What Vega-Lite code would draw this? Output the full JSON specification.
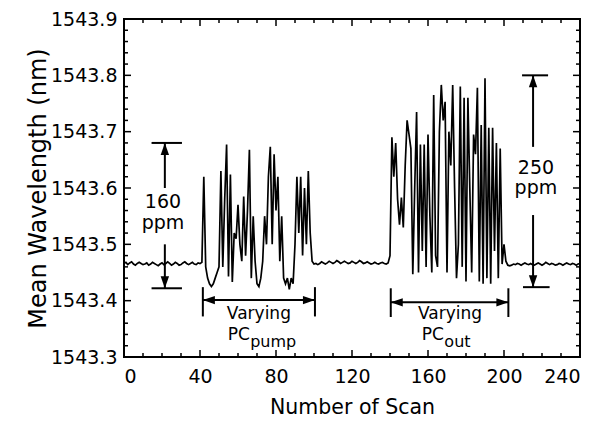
{
  "width": 456,
  "height": 338,
  "autosize": {"type": "none"},
  "padding": {"left": 124, "top": 19, "right": 30, "bottom": 66},
  "background": "white",
  "config": {
    "view": {"stroke": "black", "strokeWidth": 2},
    "axis": {"grid": false, "domain": false, "labelColor": "black", "titleColor": "black", "labelFont": "DejaVu Sans", "titleFont": "DejaVu Sans", "titleFontWeight": "normal"}
  },
  "datasets": {
    "scan": [
      {"s":0,"w":1543.466},{"s":1,"w":1543.468},{"s":2,"w":1543.464},{"s":3,"w":1543.467},{"s":4,"w":1543.469},{"s":5,"w":1543.465},{"s":6,"w":1543.463},{"s":7,"w":1543.466},{"s":8,"w":1543.468},{"s":9,"w":1543.466},
      {"s":10,"w":1543.464},{"s":11,"w":1543.465},{"s":12,"w":1543.467},{"s":13,"w":1543.463},{"s":14,"w":1543.465},{"s":15,"w":1543.468},{"s":16,"w":1543.466},{"s":17,"w":1543.464},{"s":18,"w":1543.462},{"s":19,"w":1543.465},
      {"s":20,"w":1543.467},{"s":21,"w":1543.464},{"s":22,"w":1543.466},{"s":23,"w":1543.469},{"s":24,"w":1543.466},{"s":25,"w":1543.463},{"s":26,"w":1543.465},{"s":27,"w":1543.468},{"s":28,"w":1543.466},{"s":29,"w":1543.463},
      {"s":30,"w":1543.464},{"s":31,"w":1543.467},{"s":32,"w":1543.469},{"s":33,"w":1543.466},{"s":34,"w":1543.464},{"s":35,"w":1543.466},{"s":36,"w":1543.468},{"s":37,"w":1543.465},{"s":38,"w":1543.464},{"s":39,"w":1543.467},
      {"s":40,"w":1543.466},{"s":41,"w":1543.468},{"s":42,"w":1543.62},{"s":43,"w":1543.46},{"s":44,"w":1543.44},{"s":45,"w":1543.43},{"s":46,"w":1543.425},{"s":47,"w":1543.43},{"s":48,"w":1543.44},{"s":49,"w":1543.45},
      {"s":50,"w":1543.46},{"s":51,"w":1543.63},{"s":52,"w":1543.46},{"s":53,"w":1543.58},{"s":54,"w":1543.677},{"s":55,"w":1543.443},{"s":56,"w":1543.624},{"s":57,"w":1543.433},{"s":58,"w":1543.52},{"s":59,"w":1543.51},
      {"s":60,"w":1543.57},{"s":61,"w":1543.50},{"s":62,"w":1543.47},{"s":63,"w":1543.585},{"s":64,"w":1543.48},{"s":65,"w":1543.56},{"s":66,"w":1543.668},{"s":67,"w":1543.44},{"s":68,"w":1543.55},{"s":69,"w":1543.47},
      {"s":70,"w":1543.43},{"s":71,"w":1543.425},{"s":72,"w":1543.44},{"s":73,"w":1543.47},{"s":74,"w":1543.55},{"s":75,"w":1543.50},{"s":76,"w":1543.62},{"s":77,"w":1543.673},{"s":78,"w":1543.50},{"s":79,"w":1543.66},
      {"s":80,"w":1543.56},{"s":81,"w":1543.62},{"s":82,"w":1543.47},{"s":83,"w":1543.55},{"s":84,"w":1543.44},{"s":85,"w":1543.43},{"s":86,"w":1543.44},{"s":87,"w":1543.42},{"s":88,"w":1543.44},{"s":89,"w":1543.43},
      {"s":90,"w":1543.50},{"s":91,"w":1543.62},{"s":92,"w":1543.52},{"s":93,"w":1543.62},{"s":94,"w":1543.48},{"s":95,"w":1543.60},{"s":96,"w":1543.50},{"s":97,"w":1543.63},{"s":98,"w":1543.52},{"s":99,"w":1543.47},
      {"s":100,"w":1543.465},{"s":101,"w":1543.466},{"s":102,"w":1543.464},{"s":103,"w":1543.466},{"s":104,"w":1543.469},{"s":105,"w":1543.467},{"s":106,"w":1543.465},{"s":107,"w":1543.467},{"s":108,"w":1543.470},{"s":109,"w":1543.468},
      {"s":110,"w":1543.466},{"s":111,"w":1543.468},{"s":112,"w":1543.471},{"s":113,"w":1543.469},{"s":114,"w":1543.466},{"s":115,"w":1543.468},{"s":116,"w":1543.470},{"s":117,"w":1543.468},{"s":118,"w":1543.466},{"s":119,"w":1543.467},
      {"s":120,"w":1543.470},{"s":121,"w":1543.468},{"s":122,"w":1543.466},{"s":123,"w":1543.468},{"s":124,"w":1543.471},{"s":125,"w":1543.469},{"s":126,"w":1543.466},{"s":127,"w":1543.467},{"s":128,"w":1543.469},{"s":129,"w":1543.467},
      {"s":130,"w":1543.465},{"s":131,"w":1543.466},{"s":132,"w":1543.468},{"s":133,"w":1543.466},{"s":134,"w":1543.465},{"s":135,"w":1543.467},{"s":136,"w":1543.468},{"s":137,"w":1543.466},{"s":138,"w":1543.465},{"s":139,"w":1543.467},
      {"s":140,"w":1543.48},{"s":141,"w":1543.69},{"s":142,"w":1543.62},{"s":143,"w":1543.68},{"s":144,"w":1543.58},{"s":145,"w":1543.535},{"s":146,"w":1543.583},{"s":147,"w":1543.53},{"s":148,"w":1543.64},{"s":149,"w":1543.72},
      {"s":150,"w":1543.695},{"s":151,"w":1543.67},{"s":152,"w":1543.447},{"s":153,"w":1543.60},{"s":154,"w":1543.735},{"s":155,"w":1543.45},{"s":156,"w":1543.677},{"s":157,"w":1543.488},{"s":158,"w":1543.677},{"s":159,"w":1543.46},
      {"s":160,"w":1543.695},{"s":161,"w":1543.55},{"s":162,"w":1543.45},{"s":163,"w":1543.765},{"s":164,"w":1543.48},{"s":165,"w":1543.46},{"s":166,"w":1543.70},{"s":167,"w":1543.783},{"s":168,"w":1543.72},{"s":169,"w":1543.753},
      {"s":170,"w":1543.45},{"s":171,"w":1543.70},{"s":172,"w":1543.64},{"s":173,"w":1543.783},{"s":174,"w":1543.60},{"s":175,"w":1543.44},{"s":176,"w":1543.50},{"s":177,"w":1543.78},{"s":178,"w":1543.46},{"s":179,"w":1543.76},
      {"s":180,"w":1543.434},{"s":181,"w":1543.76},{"s":182,"w":1543.60},{"s":183,"w":1543.45},{"s":184,"w":1543.695},{"s":185,"w":1543.66},{"s":186,"w":1543.778},{"s":187,"w":1543.434},{"s":188,"w":1543.712},{"s":189,"w":1543.43},
      {"s":190,"w":1543.795},{"s":191,"w":1543.44},{"s":192,"w":1543.707},{"s":193,"w":1543.43},{"s":194,"w":1543.707},{"s":195,"w":1543.488},{"s":196,"w":1543.68},{"s":197,"w":1543.44},{"s":198,"w":1543.67},{"s":199,"w":1543.465},
      {"s":200,"w":1543.50},{"s":201,"w":1543.47},{"s":202,"w":1543.463},{"s":203,"w":1543.462},{"s":204,"w":1543.463},{"s":205,"w":1543.465},{"s":206,"w":1543.464},{"s":207,"w":1543.466},{"s":208,"w":1543.465},{"s":209,"w":1543.463},
      {"s":210,"w":1543.465},{"s":211,"w":1543.467},{"s":212,"w":1543.465},{"s":213,"w":1543.464},{"s":214,"w":1543.466},{"s":215,"w":1543.464},{"s":216,"w":1543.463},{"s":217,"w":1543.465},{"s":218,"w":1543.467},{"s":219,"w":1543.465},
      {"s":220,"w":1543.463},{"s":221,"w":1543.465},{"s":222,"w":1543.468},{"s":223,"w":1543.466},{"s":224,"w":1543.464},{"s":225,"w":1543.466},{"s":226,"w":1543.465},{"s":227,"w":1543.463},{"s":228,"w":1543.464},{"s":229,"w":1543.466},
      {"s":230,"w":1543.465},{"s":231,"w":1543.463},{"s":232,"w":1543.465},{"s":233,"w":1543.467},{"s":234,"w":1543.465},{"s":235,"w":1543.464},{"s":236,"w":1543.466},{"s":237,"w":1543.465},{"s":238,"w":1543.463},{"s":239,"w":1543.465},
      {"s":240,"w":1543.466}
    ],
    "segs": [
      {"x":14.5,"x2":30.5,"y":1543.68,"y2":1543.68},
      {"x":21.5,"x2":21.5,"y":1543.68,"y2":1543.60},
      {"x":21.5,"x2":21.5,"y":1543.50,"y2":1543.422},
      {"x":14.5,"x2":30.5,"y":1543.422,"y2":1543.422},
      {"x":209.5,"x2":223.2,"y":1543.80,"y2":1543.80},
      {"x":215.3,"x2":215.3,"y":1543.80,"y2":1543.673},
      {"x":215.3,"x2":215.3,"y":1543.552,"y2":1543.424},
      {"x":210,"x2":224,"y":1543.424,"y2":1543.424},
      {"x":41.5,"x2":41.5,"y":1543.424,"y2":1543.372},
      {"x":100.5,"x2":100.5,"y":1543.424,"y2":1543.372},
      {"x":41.5,"x2":100.5,"y":1543.401,"y2":1543.401},
      {"x":140.4,"x2":140.4,"y":1543.422,"y2":1543.371},
      {"x":202.3,"x2":202.3,"y":1543.422,"y2":1543.371},
      {"x":140.4,"x2":202.3,"y":1543.397,"y2":1543.397}
    ],
    "heads": [
      {"x":21.5,"y":1543.68,"dir":"up"},
      {"x":215.3,"y":1543.80,"dir":"up"},
      {"x":21.5,"y":1543.422,"dir":"down"},
      {"x":215.3,"y":1543.424,"dir":"down"},
      {"x":41.5,"y":1543.401,"dir":"left"},
      {"x":140.4,"y":1543.397,"dir":"left"},
      {"x":100.5,"y":1543.401,"dir":"right"},
      {"x":202.3,"y":1543.397,"dir":"right"}
    ],
    "ppm": [
      {"x":20.5,"y":1543.564,"t":"160"},
      {"x":20.5,"y":1543.528,"t":"ppm"},
      {"x":216.8,"y":1543.625,"t":"250"},
      {"x":216.8,"y":1543.589,"t":"ppm"}
    ],
    "vary": [
      {"x":71,"y":1543.367,"t":"Varying"},
      {"x":171.6,"y":1543.367,"t":"Varying"}
    ],
    "pc": [
      {"x":66.2,"y":1543.331,"t":"PC"},
      {"x":168.4,"y":1543.331,"t":"PC"}
    ],
    "sub": [
      {"x":66.4,"y":1543.318,"t":"pump"},
      {"x":168.6,"y":1543.318,"t":"out"}
    ],
    "xt": [
      {"v":0,"k":"major"},{"v":10,"k":"minor"},{"v":20,"k":"minor"},{"v":30,"k":"minor"},
      {"v":40,"k":"major"},{"v":50,"k":"minor"},{"v":60,"k":"minor"},{"v":70,"k":"minor"},
      {"v":80,"k":"major"},{"v":90,"k":"minor"},{"v":100,"k":"minor"},{"v":110,"k":"minor"},
      {"v":120,"k":"major"},{"v":130,"k":"minor"},{"v":140,"k":"minor"},{"v":150,"k":"minor"},
      {"v":160,"k":"major"},{"v":170,"k":"minor"},{"v":180,"k":"minor"},{"v":190,"k":"minor"},
      {"v":200,"k":"major"},{"v":210,"k":"minor"},{"v":220,"k":"minor"},{"v":230,"k":"minor"},
      {"v":240,"k":"major"}
    ],
    "yt": [
      {"v":1543.30,"k":"major"},{"v":1543.32,"k":"minor"},{"v":1543.34,"k":"minor"},{"v":1543.36,"k":"minor"},{"v":1543.38,"k":"minor"},
      {"v":1543.40,"k":"major"},{"v":1543.42,"k":"minor"},{"v":1543.44,"k":"minor"},{"v":1543.46,"k":"minor"},{"v":1543.48,"k":"minor"},
      {"v":1543.50,"k":"major"},{"v":1543.52,"k":"minor"},{"v":1543.54,"k":"minor"},{"v":1543.56,"k":"minor"},{"v":1543.58,"k":"minor"},
      {"v":1543.60,"k":"major"},{"v":1543.62,"k":"minor"},{"v":1543.64,"k":"minor"},{"v":1543.66,"k":"minor"},{"v":1543.68,"k":"minor"},
      {"v":1543.70,"k":"major"},{"v":1543.72,"k":"minor"},{"v":1543.74,"k":"minor"},{"v":1543.76,"k":"minor"},{"v":1543.78,"k":"minor"},
      {"v":1543.80,"k":"major"},{"v":1543.82,"k":"minor"},{"v":1543.84,"k":"minor"},{"v":1543.86,"k":"minor"},{"v":1543.88,"k":"minor"},
      {"v":1543.90,"k":"major"}
    ]
  },
  "resolve": {"axis": {"x": "independent", "y": "independent"}},
  "layer": [
    {
      "data": {"name": "scan"},
      "mark": {"type": "line", "color": "black", "strokeWidth": 1.7},
      "encoding": {
        "x": {"field": "s", "type": "quantitative", "scale": {"domain": [0, 240], "nice": false, "zero": false},
              "axis": {"orient": "bottom", "values": [0, 40, 80, 120, 160, 200, 240], "ticks": false, "labelPadding": 10, "labelFontSize": 19, "title": "Number of Scan", "titleFontSize": 20.5, "titlePadding": 11}},
        "y": {"field": "w", "type": "quantitative", "scale": {"domain": [1543.3, 1543.9], "nice": false, "zero": false},
              "axis": {"orient": "left", "values": [1543.3, 1543.4, 1543.5, 1543.6, 1543.7, 1543.8, 1543.9], "format": ".1f", "ticks": false, "labelPadding": 7, "labelFontSize": 19, "title": "Mean Wavelength (nm)", "titleFontSize": 24, "titlePadding": 0}}
      }
    },
    {
      "data": {"name": "xt"},
      "mark": {"type": "tick", "orient": "vertical", "color": "black", "opacity": 1, "thickness": 1.5, "clip": true},
      "encoding": {
        "x": {"field": "v", "type": "quantitative", "scale": {"domain": [0, 240], "nice": false, "zero": false}, "axis": null},
        "y": {"datum": 1543.3, "type": "quantitative", "scale": {"domain": [1543.3, 1543.9], "nice": false, "zero": false}, "axis": null},
        "size": {"field": "k", "type": "ordinal", "scale": {"domain": ["major", "minor"], "range": [14, 8]}, "legend": null}
      }
    },
    {
      "data": {"name": "xt"},
      "mark": {"type": "tick", "orient": "vertical", "color": "black", "opacity": 1, "thickness": 1.5, "clip": true},
      "encoding": {
        "x": {"field": "v", "type": "quantitative", "scale": {"domain": [0, 240], "nice": false, "zero": false}, "axis": null},
        "y": {"datum": 1543.9, "type": "quantitative", "scale": {"domain": [1543.3, 1543.9], "nice": false, "zero": false}, "axis": null},
        "size": {"field": "k", "type": "ordinal", "scale": {"domain": ["major", "minor"], "range": [14, 8]}, "legend": null}
      }
    },
    {
      "data": {"name": "yt"},
      "mark": {"type": "tick", "orient": "horizontal", "color": "black", "opacity": 1, "thickness": 1.5, "clip": true},
      "encoding": {
        "y": {"field": "v", "type": "quantitative", "scale": {"domain": [1543.3, 1543.9], "nice": false, "zero": false}, "axis": null},
        "x": {"datum": 0, "type": "quantitative", "scale": {"domain": [0, 240], "nice": false, "zero": false}, "axis": null},
        "size": {"field": "k", "type": "ordinal", "scale": {"domain": ["major", "minor"], "range": [14, 8]}, "legend": null}
      }
    },
    {
      "data": {"name": "yt"},
      "mark": {"type": "tick", "orient": "horizontal", "color": "black", "opacity": 1, "thickness": 1.5, "clip": true},
      "encoding": {
        "y": {"field": "v", "type": "quantitative", "scale": {"domain": [1543.3, 1543.9], "nice": false, "zero": false}, "axis": null},
        "x": {"datum": 240, "type": "quantitative", "scale": {"domain": [0, 240], "nice": false, "zero": false}, "axis": null},
        "size": {"field": "k", "type": "ordinal", "scale": {"domain": ["major", "minor"], "range": [14, 8]}, "legend": null}
      }
    },
    {
      "data": {"name": "segs"},
      "mark": {"type": "rule", "color": "black", "strokeWidth": 2},
      "encoding": {
        "x": {"field": "x", "type": "quantitative", "scale": {"domain": [0, 240], "nice": false, "zero": false}, "axis": null},
        "x2": {"field": "x2"},
        "y": {"field": "y", "type": "quantitative", "scale": {"domain": [1543.3, 1543.9], "nice": false, "zero": false}, "axis": null},
        "y2": {"field": "y2"}
      }
    },
    {
      "data": {"name": "heads"},
      "mark": {"type": "point", "filled": true, "color": "black", "opacity": 1, "size": 576},
      "encoding": {
        "x": {"field": "x", "type": "quantitative", "scale": {"domain": [0, 240], "nice": false, "zero": false}, "axis": null},
        "y": {"field": "y", "type": "quantitative", "scale": {"domain": [1543.3, 1543.9], "nice": false, "zero": false}, "axis": null},
        "shape": {"field": "dir", "type": "nominal", "legend": null,
                  "scale": {"domain": ["up", "down", "left", "right"], "range": ["M0,0L-0.35,1L0.35,1Z", "M0,0L-0.35,-1L0.35,-1Z", "M0,0L1,-0.35L1,0.35Z", "M0,0L-1,-0.35L-1,0.35Z"]}}
      }
    },
    {
      "data": {"name": "ppm"},
      "mark": {"type": "text", "color": "black", "fontSize": 19, "align": "center", "baseline": "alphabetic", "font": "DejaVu Sans"},
      "encoding": {
        "x": {"field": "x", "type": "quantitative", "scale": {"domain": [0, 240], "nice": false, "zero": false}, "axis": null},
        "y": {"field": "y", "type": "quantitative", "scale": {"domain": [1543.3, 1543.9], "nice": false, "zero": false}, "axis": null},
        "text": {"field": "t"}
      }
    },
    {
      "data": {"name": "vary"},
      "mark": {"type": "text", "color": "black", "fontSize": 17, "align": "center", "baseline": "alphabetic", "font": "DejaVu Sans"},
      "encoding": {
        "x": {"field": "x", "type": "quantitative", "scale": {"domain": [0, 240], "nice": false, "zero": false}, "axis": null},
        "y": {"field": "y", "type": "quantitative", "scale": {"domain": [1543.3, 1543.9], "nice": false, "zero": false}, "axis": null},
        "text": {"field": "t"}
      }
    },
    {
      "data": {"name": "pc"},
      "mark": {"type": "text", "color": "black", "fontSize": 17, "align": "right", "baseline": "alphabetic", "font": "DejaVu Sans"},
      "encoding": {
        "x": {"field": "x", "type": "quantitative", "scale": {"domain": [0, 240], "nice": false, "zero": false}, "axis": null},
        "y": {"field": "y", "type": "quantitative", "scale": {"domain": [1543.3, 1543.9], "nice": false, "zero": false}, "axis": null},
        "text": {"field": "t"}
      }
    },
    {
      "data": {"name": "sub"},
      "mark": {"type": "text", "color": "black", "fontSize": 16, "align": "left", "baseline": "alphabetic", "font": "DejaVu Sans"},
      "encoding": {
        "x": {"field": "x", "type": "quantitative", "scale": {"domain": [0, 240], "nice": false, "zero": false}, "axis": null},
        "y": {"field": "y", "type": "quantitative", "scale": {"domain": [1543.3, 1543.9], "nice": false, "zero": false}, "axis": null},
        "text": {"field": "t"}
      }
    }
  ]
}
